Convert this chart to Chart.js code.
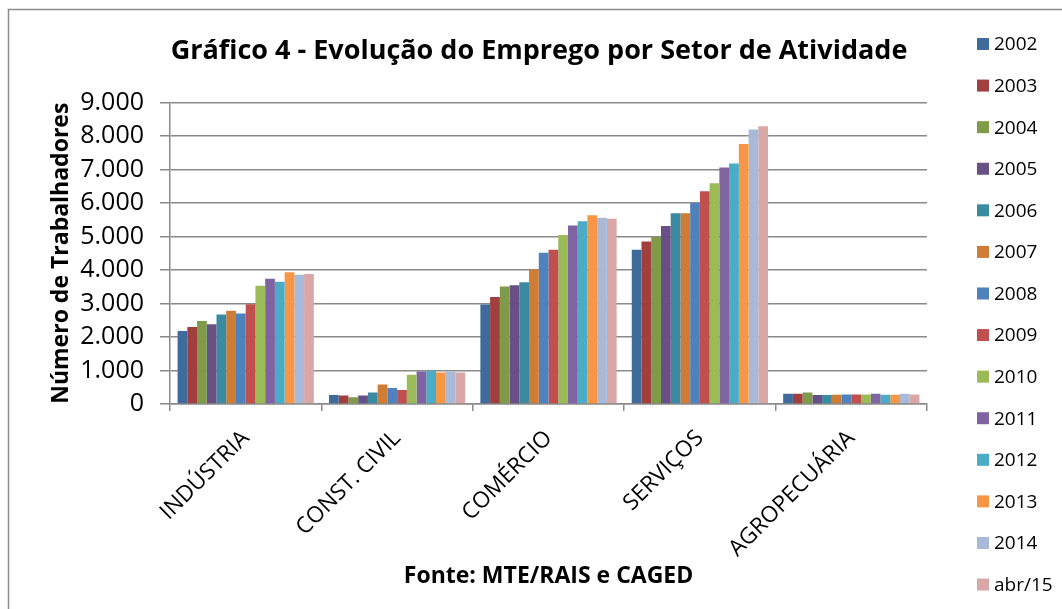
<!DOCTYPE html>
<html>
<head>
<meta charset="utf-8">
<script src="https://cdn.jsdelivr.net/npm/chart.js@4/dist/chart.umd.min.js"></script>
<style>
  html, body { margin: 0; padding: 0; background: #fff; }
  #wrap { position: relative; width: 1062px; height: 609px; }
</style>
</head>
<body>
<div id="wrap"><canvas id="c" width="1062" height="609"></canvas></div>
<script>
const categories = ['INDÚSTRIA', 'CONST. CIVIL', 'COMÉRCIO', 'SERVIÇOS', 'AGROPECUÁRIA'];
const seriesLabels = ['2002','2003','2004','2005','2006','2007','2008','2009','2010','2011','2012','2013','2014','abr/15'];
const seriesColors = ['#3F6A9C','#A03F3D','#7F9A48','#684F86','#3A8BA2','#CF7C36','#4F81BD','#C0504D','#9BBB59','#8064A2','#4BACC6','#F79646','#A9BAD8','#D9A7A6'];
// values per series: [Indústria, Const. Civil, Comércio, Serviços, Agropecuária]
const v2002 = [2180, 265, 2970, 4600, 305];
const v2003 = [2300, 255, 3190, 4850, 305];
const v2004 = [2480, 205, 3510, 4980, 345];
const v2005 = [2380, 255, 3540, 5310, 265];
const v2006 = [2670, 345, 3630, 5690, 265];
const v2007 = [2780, 580, 4010, 5690, 275];
const v2008 = [2700, 480, 4510, 6000, 285];
const v2009 = [2980, 420, 4600, 6350, 285];
const v2010 = [3530, 875, 5040, 6590, 285];
const v2011 = [3740, 970, 5330, 7060, 305];
const v2012 = [3650, 990, 5450, 7180, 275];
const v2013 = [3930, 940, 5630, 7760, 275];
const v2014 = [3860, 970, 5560, 8190, 305];
const vAbr15 = [3880, 940, 5530, 8290, 285];
const seriesValues = [v2002, v2003, v2004, v2005, v2006, v2007, v2008, v2009, v2010, v2011, v2012, v2013, v2014, vAbr15];
const yTickMax = 9000;
const yTickStep = 1000;
const titleText = 'Gráfico 4 - Evolução do Emprego por Setor de Atividade';
const yTitleText = 'Número de Trabalhadores';
const xTitleText = 'Fonte: MTE/RAIS e CAGED';

const FONT = "'Open Sans', 'Noto Sans', sans-serif";
const GRID = '#8a8a8a';

function fmt(v) { return String(v).replace(/\B(?=(\d{3})+(?!\d))/g, '.'); }

const frame = {
  id: 'frame',
  beforeDraw(chart) {
    const ctx = chart.ctx;
    ctx.save();
    ctx.strokeStyle = '#8c8c8c';
    ctx.lineWidth = 1.5;
    ctx.beginPath();
    ctx.moveTo(8.5, 609);
    ctx.lineTo(8.5, 9.5);
    ctx.lineTo(1062, 9.5);
    ctx.stroke();
    ctx.restore();
  }
};

const sideLegend = {
  id: 'sideLegend',
  afterDraw(chart) {
    const ctx = chart.ctx;
    ctx.save();
    ctx.font = '19px ' + FONT;
    ctx.textBaseline = 'middle';
    ctx.textAlign = 'left';
    chart.data.datasets.forEach((ds, i) => {
      const cy = 44 + i * 41.58;
      ctx.fillStyle = ds.backgroundColor;
      ctx.fillRect(977, cy - 6, 12, 12);
      ctx.fillStyle = '#000';
      ctx.fillText(ds.label, 994, cy + 1);
    });
    ctx.restore();
  }
};

new Chart(document.getElementById('c'), {
  type: 'bar',
  data: {
    labels: categories,
    datasets: seriesLabels.map((l, i) => ({
      label: l,
      data: seriesValues[i],
      backgroundColor: seriesColors[i],
      borderWidth: 0,
      categoryPercentage: 0.9,
      barPercentage: 1.0
    }))
  },
  options: {
    responsive: false,
    animation: false,
    devicePixelRatio: 1,
    layout: { padding: { left: 16, right: 0, top: 0, bottom: 0 } },
    plugins: {
      legend: { display: false },
      tooltip: { enabled: false },
      title: {
        display: true,
        text: titleText,
        color: '#000',
        font: { family: FONT, size: 27, weight: 'bold' },
        padding: { top: 35, bottom: 35 }
      }
    },
    scales: {
      x: {
        offset: true,
        grid: { display: true, drawOnChartArea: false, offset: true, color: GRID, lineWidth: 1.5, tickLength: 7 },
        border: { display: true, color: GRID, width: 1.5 },
        ticks: {
          color: '#000',
          font: { family: FONT, size: 22.5 },
          maxRotation: 45, minRotation: 45, padding: 14
        },
        title: {
          display: true, text: xTitleText, color: '#000',
          font: { family: FONT, size: 23, weight: 'bold' },
          padding: { top: 0, bottom: 19 }
        },
        afterFit(scale) { scale.height = 205; }
      },
      y: {
        min: 0, max: yTickMax,
        grid: { color: GRID, lineWidth: 1.5, tickLength: 10 },
        border: { display: true, color: GRID, width: 1.5 },
        ticks: {
          stepSize: yTickStep,
          color: '#000',
          font: { family: FONT, size: 25 },
          padding: 16,
          callback: (v) => fmt(v)
        },
        title: {
          display: true, text: yTitleText, color: '#000',
          font: { family: FONT, size: 23, weight: 'bold' },
          padding: { top: 32, bottom: 0 }
        },
        afterFit(scale) { scale.width = 154; }
      },
      yR: {
        type: 'linear',
        position: 'right',
        display: true,
        min: 0, max: 1,
        grid: { display: false, drawOnChartArea: false },
        border: { display: false },
        ticks: { display: false },
        afterFit(scale) { scale.width = 135; }
      }
    }
  },
  plugins: [frame, sideLegend]
});
</script>
</body>
</html>
